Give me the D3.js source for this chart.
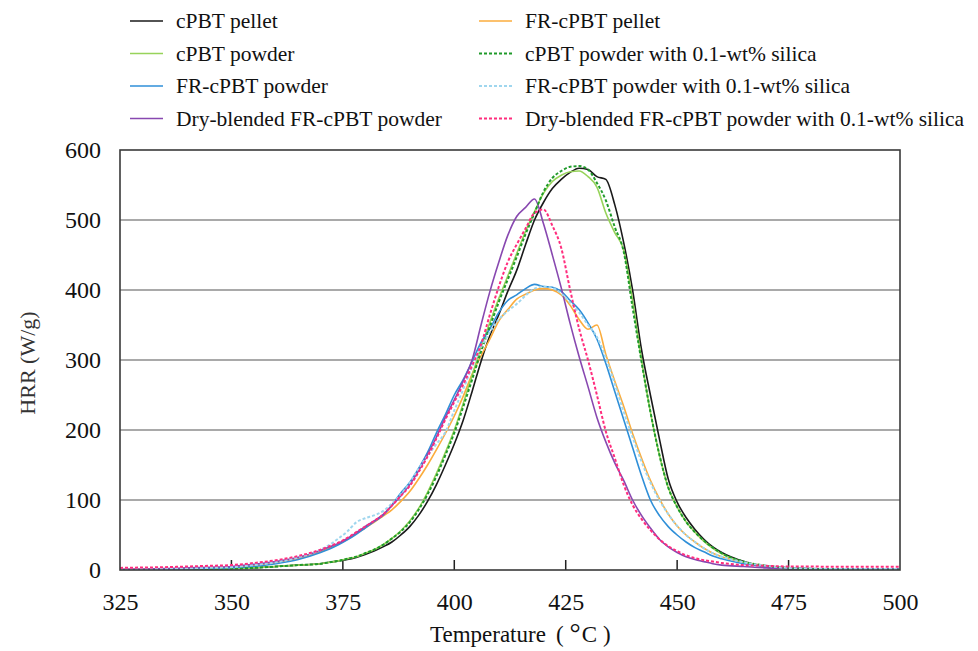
<!DOCTYPE html>
<html>
<head>
<meta charset="utf-8">
<script src="https://cdn.jsdelivr.net/npm/d3@7"></script>
<style>
  html, body { margin: 0; padding: 0; background: #fff; }
  svg { display: block; }
  text { font-family: "Liberation Serif", "Times New Roman", serif; }
</style>
</head>
<body>
<svg id="chart" width="978" height="651"></svg>
<script>
// Heat release rate (W/g) versus temperature (°C)
const temps = [325,330,335,340,345,350,355,360,365,
  370,372,374,376,378,380,382,384,386,388,390,392,394,396,398,400,402,404,406,408,
  410,412,414,416,418,420,422,424,426,428,430,432,434,436,438,440,442,444,446,448,
  450,452,454,456,458,460,465,470,475,480,485,490,495,500];

const cpbtPellet = [0,0,0.5,1,1.5,2,3,5,7,
  9,11,13,15,18,22,27,33,40,50,62,78,98,122,150,180,214,255,298,335,
  365,398,428,465,500,525,545,558,568,574,572,562,558,522,468,400,315,250,188,130,
  97,75,58,44,33,25,12,5,2,1.5,1,0.5,0.5,0.5];

const frPellet = [0.5,1,1.5,2,3,4,6,10,16,
  26,31,37,44,52,60,68,77,86,98,112,130,150,172,195,220,248,280,306,330,
  356,372,387,394,400,402,400,393,378,358,344,350,308,270,234,195,160,128,102,80,
  63,50,40,31,24,19,11,6,3,2,1.5,1.5,1.5,1.5];

const cpbtPowder = [0,0,0.5,1,1.5,2,3,5,7,
  9,11,13,16,19,24,29,36,45,56,70,88,111,138,168,200,238,278,318,354,
  388,420,452,484,512,538,555,564,569,570,562,547,510,482,457,385,300,226,165,118,
  90,69,54,41,31,23,11,5,3,1.5,1,0.5,0.5,0.5];

const cpbtPowderSilica = [0,0,0.5,1,1.5,2,3,5,7,
  9,11,13,16,19,24,29,36,45,55,68,86,108,134,164,196,233,272,312,348,
  383,415,447,480,510,540,560,570,576,577,572,553,528,490,455,375,298,226,165,118,
  90,69,54,42,32,24,12,6,3,1.5,1,0.5,0.5,0.5];

const frPowder = [0,0,0.5,1,2,3,5,9,15,
  25,30,36,43,51,60,69,78,93,110,125,145,168,196,222,250,272,298,325,345,
  368,385,393,402,408,405,404,398,385,372,353,330,295,255,215,175,135,100,78,62,
  50,40,32,26,20,16,9,5,3,2,1.5,1.5,1.5,1.5];

const frPowderSilica = [0.5,1,1.5,2,3,4,7,11,18,
  29,36,45,55,68,74,78,84,95,108,125,145,163,180,197,228,258,290,318,340,
  358,370,380,392,402,405,403,395,382,368,350,333,303,266,226,190,155,125,100,80,
  63,50,40,31,24,19,11,6,3,2,1.5,1.5,1.5,1.5];

const dryBlended = [1,1.5,2,3,4,5,8,12,18,
  28,33,38,45,53,62,70,79,92,106,122,142,165,190,218,243,270,300,350,398,
  440,478,505,518,530,495,450,403,352,305,262,218,183,153,128,100,78,60,44,33,
  25,19,15,12,9,7,5,3,2,1.5,1,1,1,1];

const dryBlendedSilica = [3,3.5,4,5,6,7,10,14,20,
  29,34,39,46,54,62,70,79,92,106,120,140,162,188,215,240,265,292,322,365,
  405,440,465,488,510,515,492,460,400,345,300,250,198,160,122,93,73,57,44,34,
  27,21,17,14,12,10,7,6,5,5,4.5,4.5,4.5,4.5];

const seriesNames = [
  "cPBT pellet", "FR-cPBT pellet",
  "cPBT powder", "cPBT powder with 0.1-wt% silica",
  "FR-cPBT powder", "FR-cPBT powder with 0.1-wt% silica",
  "Dry-blended FR-cPBT powder", "Dry-blended FR-cPBT powder with 0.1-wt% silica"
];
const seriesValues = [cpbtPellet, frPellet, cpbtPowder, cpbtPowderSilica,
  frPowder, frPowderSilica, dryBlended, dryBlendedSilica];
const seriesColors = ["#1a1a1a", "#fbac3c", "#97d35a", "#1f9a2a",
  "#2f8fd8", "#9fd6ee", "#8848b0", "#ff2d7d"];
const seriesDashed = [false, false, false, true, false, true, false, true];

const xTicks = [325, 350, 375, 400, 425, 450, 475, 500];
const yTicks = [0, 100, 200, 300, 400, 500, 600];

const svg = d3.select("#chart");
const plot = { left: 120, right: 900, top: 150, bottom: 570 };

const x = d3.scaleLinear().domain([325, 500]).range([plot.left, plot.right]);
const y = d3.scaleLinear().domain([0, 600]).range([plot.bottom, plot.top]);

// horizontal gridlines
svg.append("g")
  .selectAll("line")
  .data(yTicks.filter(v => v > 0 && v < 600))
  .join("line")
  .attr("x1", plot.left).attr("x2", plot.right)
  .attr("y1", d => y(d)).attr("y2", d => y(d))
  .attr("stroke", "#8c8c8c").attr("stroke-width", 1.5);

// y axis labels
const yAxis = d3.axisLeft(y).tickValues(yTicks).tickSize(0).tickPadding(19);
svg.append("g")
  .attr("transform", `translate(${plot.left},0)`)
  .call(yAxis)
  .call(g => g.select(".domain").remove())
  .call(g => g.selectAll("text")
    .attr("font-size", 24).attr("fill", "#111")
    .style("font-family", "'Liberation Serif', serif"));

// x axis with ticks pointing into the plot
const xAxis = d3.axisBottom(x).tickValues(xTicks).tickSize(0).tickPadding(23);
svg.append("g")
  .attr("transform", `translate(0,${plot.bottom})`)
  .call(xAxis)
  .call(g => g.select(".domain").remove())
  .call(g => g.selectAll("text")
    .attr("font-size", 24).attr("fill", "#111")
    .style("font-family", "'Liberation Serif', serif"));

svg.append("g")
  .selectAll("line")
  .data(xTicks.slice(1, -1))
  .join("line")
  .attr("x1", d => x(d)).attr("x2", d => x(d))
  .attr("y1", plot.bottom).attr("y2", plot.bottom - 10)
  .attr("stroke", "#222").attr("stroke-width", 1.5);

// data curves
svg.append("clipPath").attr("id", "plotClip")
  .append("rect")
  .attr("x", plot.left).attr("y", plot.top)
  .attr("width", plot.right - plot.left).attr("height", plot.bottom - plot.top);

const line = d3.line()
  .x(d => x(d[0]))
  .y(d => y(d[1]))
  .curve(d3.curveMonotoneX);

const drawOrder = [0, 1, 2, 4, 6, 3, 5, 7];
const curves = svg.append("g").attr("clip-path", "url(#plotClip)");
drawOrder.forEach(i => {
  curves.append("path")
    .datum(temps.map((t, k) => [t, seriesValues[i][k]]))
    .attr("fill", "none")
    .attr("stroke", seriesColors[i])
    .attr("stroke-width", seriesDashed[i] ? 2 : 1.6)
    .attr("stroke-dasharray", seriesDashed[i] ? "3,2" : null)
    .attr("stroke-linejoin", "round")
    .attr("d", line);
});

// plot frame
svg.append("rect")
  .attr("x", plot.left).attr("y", plot.top)
  .attr("width", plot.right - plot.left).attr("height", plot.bottom - plot.top)
  .attr("fill", "none").attr("stroke", "#3a3a3a").attr("stroke-width", 1.6);

// axis titles
const xTitle = svg.append("text")
  .attr("x", 430).attr("y", 642)
  .attr("font-size", 23).attr("fill", "#111");
xTitle.append("tspan").text("Temperature");
xTitle.append("tspan").attr("dx", 10).text("(");
xTitle.append("tspan").attr("dx", 6).attr("font-size", 28).text("°");
xTitle.append("tspan").attr("dx", 1).text("C");
xTitle.append("tspan").attr("dx", 6).text(")");

svg.append("text")
  .attr("transform", "translate(35,363) rotate(-90)")
  .attr("text-anchor", "middle")
  .attr("font-size", 22).attr("fill", "#333")
  .text("HRR (W/g)");

// legend: two columns, four rows
const legend = svg.append("g");
seriesNames.forEach((name, i) => {
  const col = i % 2, row = Math.floor(i / 2);
  const lx = col === 0 ? 130 : 479;
  const ly = 21 + row * 32.5;
  legend.append("line")
    .attr("x1", lx).attr("x2", lx + 33)
    .attr("y1", ly).attr("y2", ly)
    .attr("stroke", seriesColors[i])
    .attr("stroke-width", seriesDashed[i] ? 2 : 1.6)
    .attr("stroke-dasharray", seriesDashed[i] ? "3,2" : null);
  legend.append("text")
    .attr("x", lx + 46).attr("y", ly + 7)
    .attr("font-size", 21.5).attr("fill", "#111")
    .text(name);
});
</script>
</body>
</html>
